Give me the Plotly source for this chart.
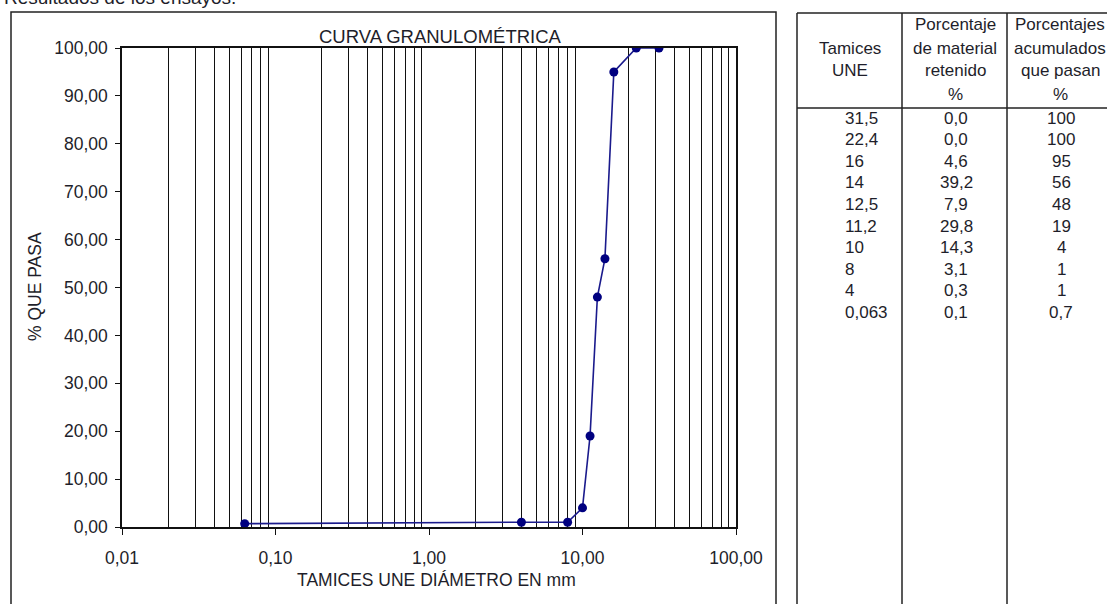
import plotly.graph_objects as go

# ---- data ----
tamices = [31.5, 22.4, 16, 14, 12.5, 11.2, 10, 8, 4, 0.063]
retenido = [0.0, 0.0, 4.6, 39.2, 7.9, 29.8, 14.3, 3.1, 0.3, 0.1]
pasan = [100, 100, 95, 56, 48, 19, 4, 1, 1, 0.7]
x_ticks = [0.01, 0.1, 1, 10, 100]
y_ticks = [0, 10, 20, 30, 40, 50, 60, 70, 80, 90, 100]

FONT = "Liberation Sans, Arial, sans-serif"
TXT = "#1e1e2a"
W, H = 1107, 604
L, R, T, B = 122, 736, 48, 527


def px(x):
    return (x - L) / (R - L)


def py(y):
    return (B - y) / (B - T)


def num(v, dec=None):
    if dec is not None:
        s = f"{v:.{dec}f}"
    elif float(v).is_integer():
        s = str(int(v))
    else:
        s = f"{v:g}"
    return s.replace(".", ",")


fig = go.Figure()
fig.add_trace(go.Scatter(
    x=tamices, y=pasan, mode="lines+markers",
    line=dict(color="#1a1a8c", width=1.6),
    marker=dict(color="#000080", size=9, symbol="circle"),
    showlegend=False, hoverinfo="skip",
))

grid_vals = [m * d for d in (0.01, 0.1, 1, 10) for m in range(2, 10)]

fig.update_xaxes(
    type="log", range=[-2, 2],
    tickvals=x_ticks, ticktext=[num(v, 2) for v in x_ticks],
    showgrid=False, zeroline=False,
    showline=True, linecolor="#111", linewidth=1.5, mirror=True,
    ticks="outside", ticklen=6, tickwidth=1.2, tickcolor="#111",
    ticklabelstandoff=8,
    minor=dict(tickmode="array", tickvals=grid_vals, showgrid=True,
               gridcolor="#111", gridwidth=1.4, ticks=""),
    tickfont=dict(family=FONT, size=17.5, color=TXT),
)
fig.update_yaxes(
    range=[0, 100],
    tickvals=y_ticks, ticktext=[num(v, 2) for v in y_ticks],
    showgrid=False, zeroline=False,
    showline=True, linecolor="#111", linewidth=1.5, mirror=True,
    ticks="outside", ticklen=5, tickwidth=1.2, tickcolor="#111",
    ticklabelstandoff=4,
    tickfont=dict(family=FONT, size=17.5, color=TXT),
)

shapes = []
ln = dict(color="#222", width=1.5)
# chart frame
shapes.append(dict(type="rect", xref="paper", yref="paper",
                   x0=px(11), x1=px(776), y0=py(640), y1=py(12), line=ln))
# table lines
for xv in (797, 902, 1007):
    shapes.append(dict(type="line", xref="paper", yref="paper",
                       x0=px(xv), x1=px(xv), y0=py(13), y1=py(640), line=ln))
for yv in (13, 108):
    shapes.append(dict(type="line", xref="paper", yref="paper",
                       x0=px(797), x1=px(1130), y0=py(yv), y1=py(yv), line=ln))

ann = []


def text(s, x, y, size=17.5, xanchor="center"):
    ann.append(dict(text=s, xref="paper", yref="paper", x=px(x), y=py(y),
                    xanchor=xanchor, yanchor="middle", showarrow=False,
                    font=dict(family=FONT, size=size, color=TXT)))


# clipped caption at very top
text("Resultados de los ensayos.", 238, -2, 19, xanchor="right")
# chart title and axis titles
text("CURVA GRANULOMÉTRICA", 440, 37, 18.5)
text("TAMICES UNE DIÁMETRO EN mm", 436, 580)
ann.append(dict(text="% QUE PASA", xref="paper", yref="paper", x=px(35), y=py(287),
                xanchor="center", yanchor="middle", showarrow=False, textangle=-90,
                font=dict(family=FONT, size=17.5, color=TXT)))

# table header
c1, c2, c3 = 849.5, 955, 1060
text("Tamices", c1, 48, 17)
text("UNE", c1, 71, 17)
for i, s in enumerate(["Porcentaje", "de material", "retenido", "%"]):
    text(s, c2, 25 + 23 * i, 17)
for i, s in enumerate(["Porcentajes", "acumulados", "que pasan", "%"]):
    text(s, c3, 25 + 23 * i, 17)

# table body
for i in range(len(tamices)):
    yy = 118 + 21.6 * i
    text(num(tamices[i]), 843, yy, 17, xanchor="left")
    text(num(retenido[i], 1), 956, yy, 17)
    text(num(pasan[i]), 1061, yy, 17)

fig.update_layout(
    width=W, height=H,
    margin=dict(l=L, r=W - R, t=T, b=H - B, pad=0),
    paper_bgcolor="white", plot_bgcolor="white",
    shapes=shapes, annotations=ann,
    font=dict(family=FONT, color=TXT),
)

fig.write_html(
    "out.html",
    config={"displayModeBar": False},
    post_script="document.body.style.margin='0px';document.body.style.overflow='hidden';",
)
